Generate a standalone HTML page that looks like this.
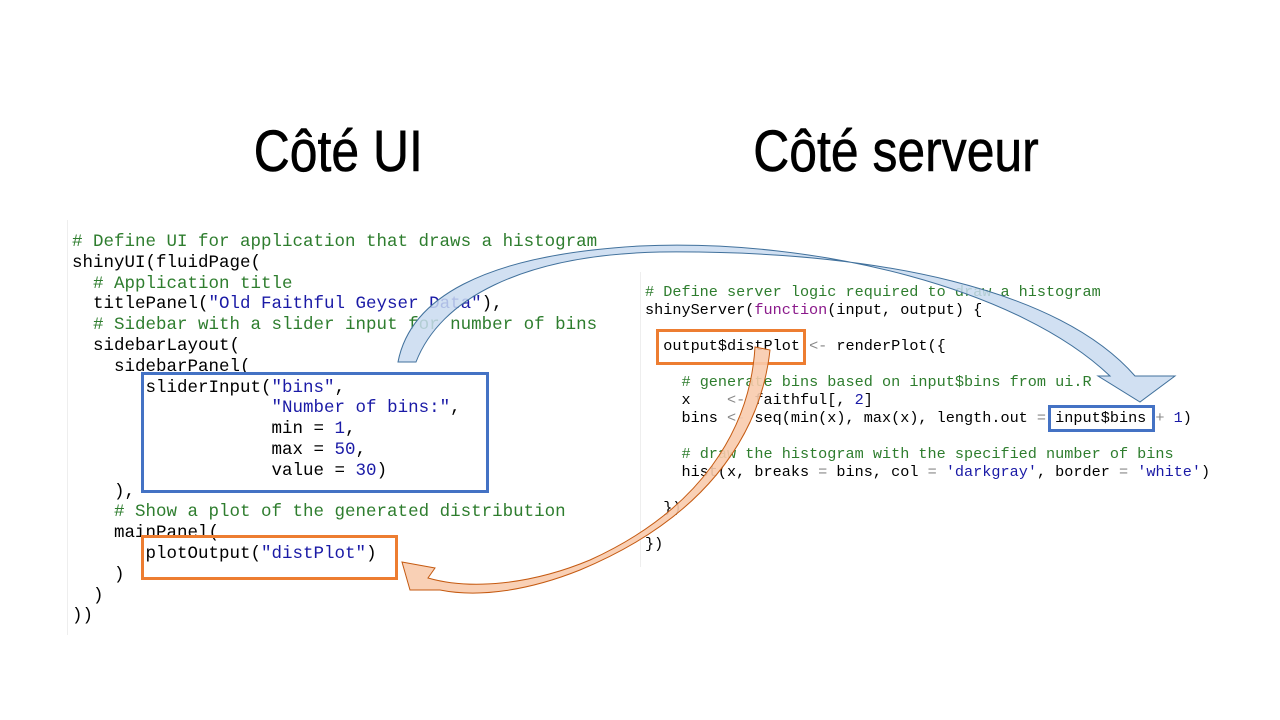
<!DOCTYPE html>
<html><head><meta charset="utf-8"><style>
body{margin:0;width:1280px;height:720px;background:#fff;position:relative;overflow:hidden;font-family:"Liberation Sans",sans-serif}
.t{position:absolute;top:118px;font-family:"Liberation Sans Narrow","Liberation Sans",sans-serif;font-size:58px;color:#000;transform:scaleX(0.86);transform-origin:center;white-space:nowrap;-webkit-text-stroke:0.6px #000}
pre{position:absolute;margin:0;font-family:"Liberation Mono",monospace;color:#000}
#l{left:72px;top:232px;font-size:17.5px;line-height:20.8px}
#r{left:645px;top:283px;font-size:15.2px;line-height:18px}
.c{color:#2e7d2e}.s{color:#1a1aa6}.k{color:#8b1a8b}.g{color:#888}
.box{position:absolute;border:3px solid}
</style></head><body>
<div class="t" style="left:240px">Côté UI</div>
<div class="t" style="left:730px">Côté serveur</div>
<div style="position:absolute;left:67px;top:220px;width:1px;height:415px;background:#eee"></div>
<div style="position:absolute;left:640px;top:272px;width:1px;height:295px;background:#eee"></div>
<pre id="l"><span class="c"># Define UI for application that draws a histogram</span>
shinyUI(fluidPage(
  <span class="c"># Application title</span>
  titlePanel(<span class="s">"Old Faithful Geyser Data"</span>),
  <span class="c"># Sidebar with a slider input for number of bins</span>
  sidebarLayout(
    sidebarPanel(
       sliderInput(<span class="s">"bins"</span>,
                   <span class="s">"Number of bins:"</span>,
                   min = <span class="s">1</span>,
                   max = <span class="s">50</span>,
                   value = <span class="s">30</span>)
    ),
    <span class="c"># Show a plot of the generated distribution</span>
    mainPanel(
       plotOutput(<span class="s">"distPlot"</span>)
    )
  )
))</pre>
<pre id="r"><span class="c"># Define server logic required to draw a histogram</span>
shinyServer(<span class="k">function</span>(input, output) {

  output$distPlot <span class="g">&lt;-</span> renderPlot({

    <span class="c"># generate bins based on input$bins from ui.R</span>
    x    <span class="g">&lt;-</span> faithful[, <span class="s">2</span>]
    bins <span class="g">&lt;-</span> seq(min(x), max(x), length.out <span class="g">=</span> input$bins <span class="g">+</span> <span class="s">1</span>)

    <span class="c"># draw the histogram with the specified number of bins</span>
    hist(x, breaks <span class="g">=</span> bins, col <span class="g">=</span> <span class="s">'darkgray'</span>, border <span class="g">=</span> <span class="s">'white'</span>)

  })

})</pre>
<div class="box" style="left:141px;top:372px;width:342px;height:115px;border-color:#4472c4"></div>
<div class="box" style="left:141px;top:535px;width:251px;height:39px;border-color:#ed7d31"></div>
<div class="box" style="left:656px;top:329px;width:144px;height:30px;border-color:#ed7d31"></div>
<div class="box" style="left:1048px;top:405px;width:101px;height:21px;border-color:#4472c4"></div>
<svg width="1280" height="720" style="position:absolute;left:0;top:0">
<path d="M398,362 C410,300 480,255 640,246 C820,238 1020,290 1110,376 L1098,376 L1140,402 L1175,376 L1135,376 C1060,290 880,250 660,252 C520,255 440,300 416,362 Z" fill="#c9daf0" fill-opacity="0.85" stroke="#41719c" stroke-width="1"/>
<path d="M755,347 L770,350 C760,440 700,520 580,570 C530,590 480,598 440,590 L410,590 L402,562 L435,568 L428,578 C470,590 530,585 590,560 C700,510 750,430 755,347 Z" fill="#f8cbad" fill-opacity="0.9" stroke="#c55a11" stroke-width="1"/>
</svg>
</body></html>
